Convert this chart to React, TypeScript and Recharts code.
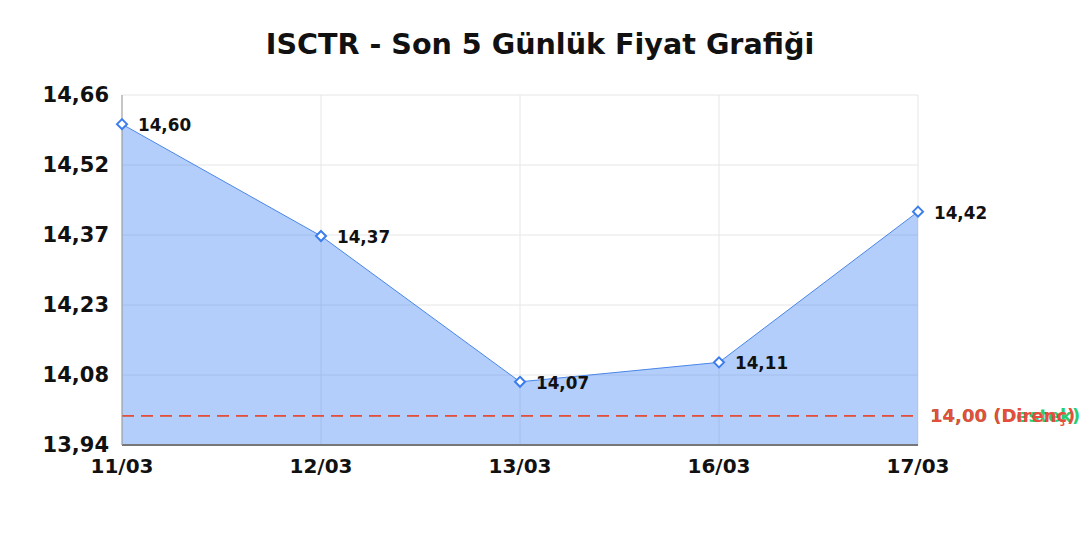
import { AreaChart, Area, XAxis, YAxis, CartesianGrid, ReferenceLine } from "recharts";

const dates = ["11/03", "12/03", "13/03", "16/03", "17/03"];
const prices = [14.6, 14.37, 14.07, 14.11, 14.42];
const yTicks = [13.94, 14.084, 14.228, 14.372, 14.516, 14.66];
const support = 14.0;
const resistance = 14.0;

const FONT = '"DejaVu Sans", sans-serif';
const fmt = (v: number) => v.toFixed(2).replace(".", ",");

const data = dates.map((d, i) => ({ date: d, price: prices[i] }));

const Diamond = (props: any) => {
  const { cx, cy } = props;
  if (cx == null || cy == null) return null;
  const r = 5;
  return (
    <path
      d={`M${cx},${cy - r}L${cx + r},${cy}L${cx},${cy + r}L${cx - r},${cy}Z`}
      fill="#fff"
      stroke="#3b7ded"
      strokeWidth={2}
    />
  );
};

const PriceLabel = (props: any) => {
  const { x, y, value } = props;
  return (
    <text x={x + 16} y={y + 7} fontSize={16.8} fontWeight="bold" fill="#111" fontFamily={FONT}>
      {fmt(value)}
    </text>
  );
};

export default function App() {
  return (
    <div style={{ position: "absolute", left: 0, top: 0, width: 1080, height: 540, background: "#fff" }}>
      <div
        style={{
          position: "absolute",
          top: 30,
          left: 0,
          width: 1080,
          textAlign: "center",
          fontFamily: FONT,
          fontWeight: "bold",
          fontSize: 28.6,
          lineHeight: "28px",
          color: "#111",
        }}
      >
        ISCTR - Son 5 Günlük Fiyat Grafiği
      </div>
      <AreaChart width={1080} height={540} data={data} margin={{ top: 95, right: 162, bottom: 65, left: 0 }}>
        <CartesianGrid stroke="#e6e6e6" />
        <XAxis
          dataKey="date"
          height={30}
          tickLine={false}
          tickMargin={8}
          axisLine={{ stroke: "#777", strokeWidth: 2 }}
          tick={{ fontSize: 20, fontWeight: "bold", fill: "#111", fontFamily: FONT }}
        />
        <YAxis
          type="number"
          width={122}
          domain={[13.94, 14.66]}
          ticks={yTicks}
          allowDataOverflow
          tickFormatter={fmt}
          tickLine={false}
          tickMargin={7}
          axisLine={{ stroke: "#999" }}
          tick={{ fontSize: 21, fontWeight: "bold", fill: "#111", fontFamily: FONT }}
        />
        <Area
          type="linear"
          dataKey="price"
          stroke="#4a86e8"
          strokeWidth={1}
          fill="#4285f4"
          fillOpacity={0.4}
          dot={<Diamond />}
          activeDot={false}
          label={<PriceLabel />}
          isAnimationActive={false}
        />
        <ReferenceLine
          y={support}
          stroke="#2ecc71"
          strokeDasharray="12 7"
          strokeWidth={1}
          label={{
            value: `${fmt(support)} (Destek)`,
            position: "right",
            offset: 12,
            fill: "#2ecc71",
            fontSize: 18,
            fontWeight: "bold",
            fontFamily: FONT,
          }}
        />
        <ReferenceLine
          y={resistance}
          stroke="#e74c3c"
          strokeDasharray="12 7"
          strokeWidth={1.6}
          label={{
            value: `${fmt(resistance)} (Direnç)`,
            position: "right",
            offset: 12,
            fill: "#e74c3c",
            fontSize: 18,
            fontWeight: "bold",
            fontFamily: FONT,
          }}
        />
      </AreaChart>
    </div>
  );
}
